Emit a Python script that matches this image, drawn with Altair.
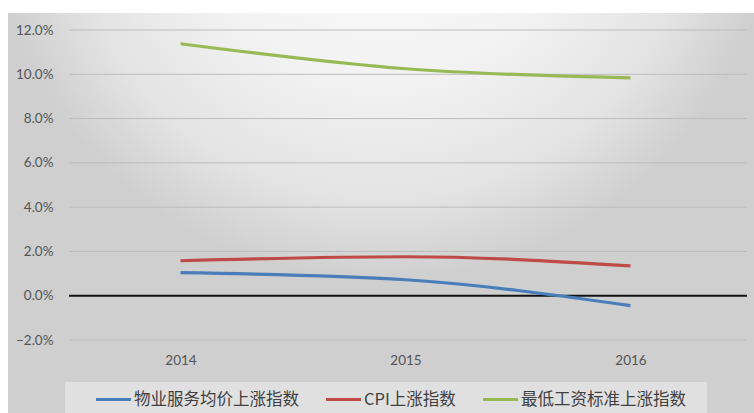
import altair as alt
import pandas as pd

# Annual growth indices (fractions), read per year
years = ["2014", "2015", "2016"]
series_names = ["物业服务均价上涨指数", "CPI上涨指数", "最低工资标准上涨指数"]
property_fee = [0.0104, 0.0072, -0.0045]
cpi = [0.0158, 0.0176, 0.0135]
min_wage = [0.1138, 0.1025, 0.0984]
series_colors = ["#4a7ebb", "#be4b48", "#98b954"]
y_ticks = [-0.02, 0.0, 0.02, 0.04, 0.06, 0.08, 0.10, 0.12]

W, H = 675, 310

rows = []
for name, vals in zip(series_names, [property_fee, cpi, min_wage]):
    for yr, v in zip(years, vals):
        rows.append({"year": yr, "series": name, "value": v})
df = pd.DataFrame(rows)

grid_df = pd.DataFrame({"level": [v for v in y_ticks if v != 0.0]})
zero_df = pd.DataFrame({"level": [0.0]})

y_scale = alt.Scale(domain=[-0.02, 0.12], nice=False)

# soft radial backdrop behind the whole plot block
backdrop = alt.Chart(pd.DataFrame({"k": [0]})).mark_rect(
    color=alt.RadialGradient(
        gradient="radial",
        stops=[
            alt.GradientStop(offset=0, color="#ffffff"),
            alt.GradientStop(offset=0.5, color="#f2f2f2"),
            alt.GradientStop(offset=0.8, color="#e3e3e3"),
            alt.GradientStop(offset=1, color="#cfcfcf"),
        ],
        x1=0.5, y1=0.06, r1=0,
        x2=0.5, y2=0.06, r2=0.53,
    )
).encode(
    x=alt.value(-60), x2=alt.value(W + 11),
    y=alt.value(-17), y2=alt.value(H + 73),
)

legend_box = alt.Chart(pd.DataFrame({"k": [0]})).mark_rect(
    color="white", opacity=0.35
).encode(
    x=alt.value(-3), x2=alt.value(639),
    y=alt.value(H + 42), y2=alt.value(H + 73),
)

grid = alt.Chart(grid_df).mark_rule(color="#bcbcbc", strokeWidth=1).encode(
    y=alt.Y("level:Q", scale=y_scale),
    x=alt.value(1), x2=alt.value(W + 4),
)

zero_line = alt.Chart(zero_df).mark_rule(color="#111111", strokeWidth=2).encode(
    y=alt.Y("level:Q", scale=y_scale),
    x=alt.value(1), x2=alt.value(W + 4),
)

lines = alt.Chart(df).mark_line(strokeWidth=3.2, interpolate="monotone").encode(
    x=alt.X(
        "year:O",
        scale=alt.Scale(type="point", padding=0.5),
        axis=alt.Axis(title=None, labelAngle=0, domain=False, ticks=False,
                      grid=False, labelPadding=13, zindex=2),
    ),
    y=alt.Y(
        "value:Q",
        scale=y_scale,
        axis=alt.Axis(title=None, values=y_ticks, format=".1%", domain=False,
                      ticks=False, grid=False, labelPadding=15, zindex=2),
    ),
    color=alt.Color(
        "series:N",
        scale=alt.Scale(domain=series_names, range=series_colors),
        legend=alt.Legend(
            title=None, orient="none", direction="horizontal",
            legendX=26, legendY=H + 40,
            symbolType="stroke", symbolSize=1225, symbolStrokeWidth=3.2,
            labelFont="Noto Sans CJK SC", labelFontSize=16.5, labelLimit=400,
            labelColor="#404040", labelOffset=1, columnPadding=20,
            zindex=2,
        ),
    ),
    order=alt.Order("year:O"),
)

chart = alt.layer(backdrop, legend_box, grid, zero_line, lines).properties(
    width=W, height=H,
    autosize=alt.AutoSizeParams(type="none"),
    padding={"left": 68, "top": 30, "right": 11, "bottom": 73},
    background="white",
).configure_view(stroke=None).configure_axis(
    labelFont="Lato", labelFontSize=13.5, labelColor="#555555"
)

chart.save("out.html", embed_options={"renderer": "svg", "actions": False})
